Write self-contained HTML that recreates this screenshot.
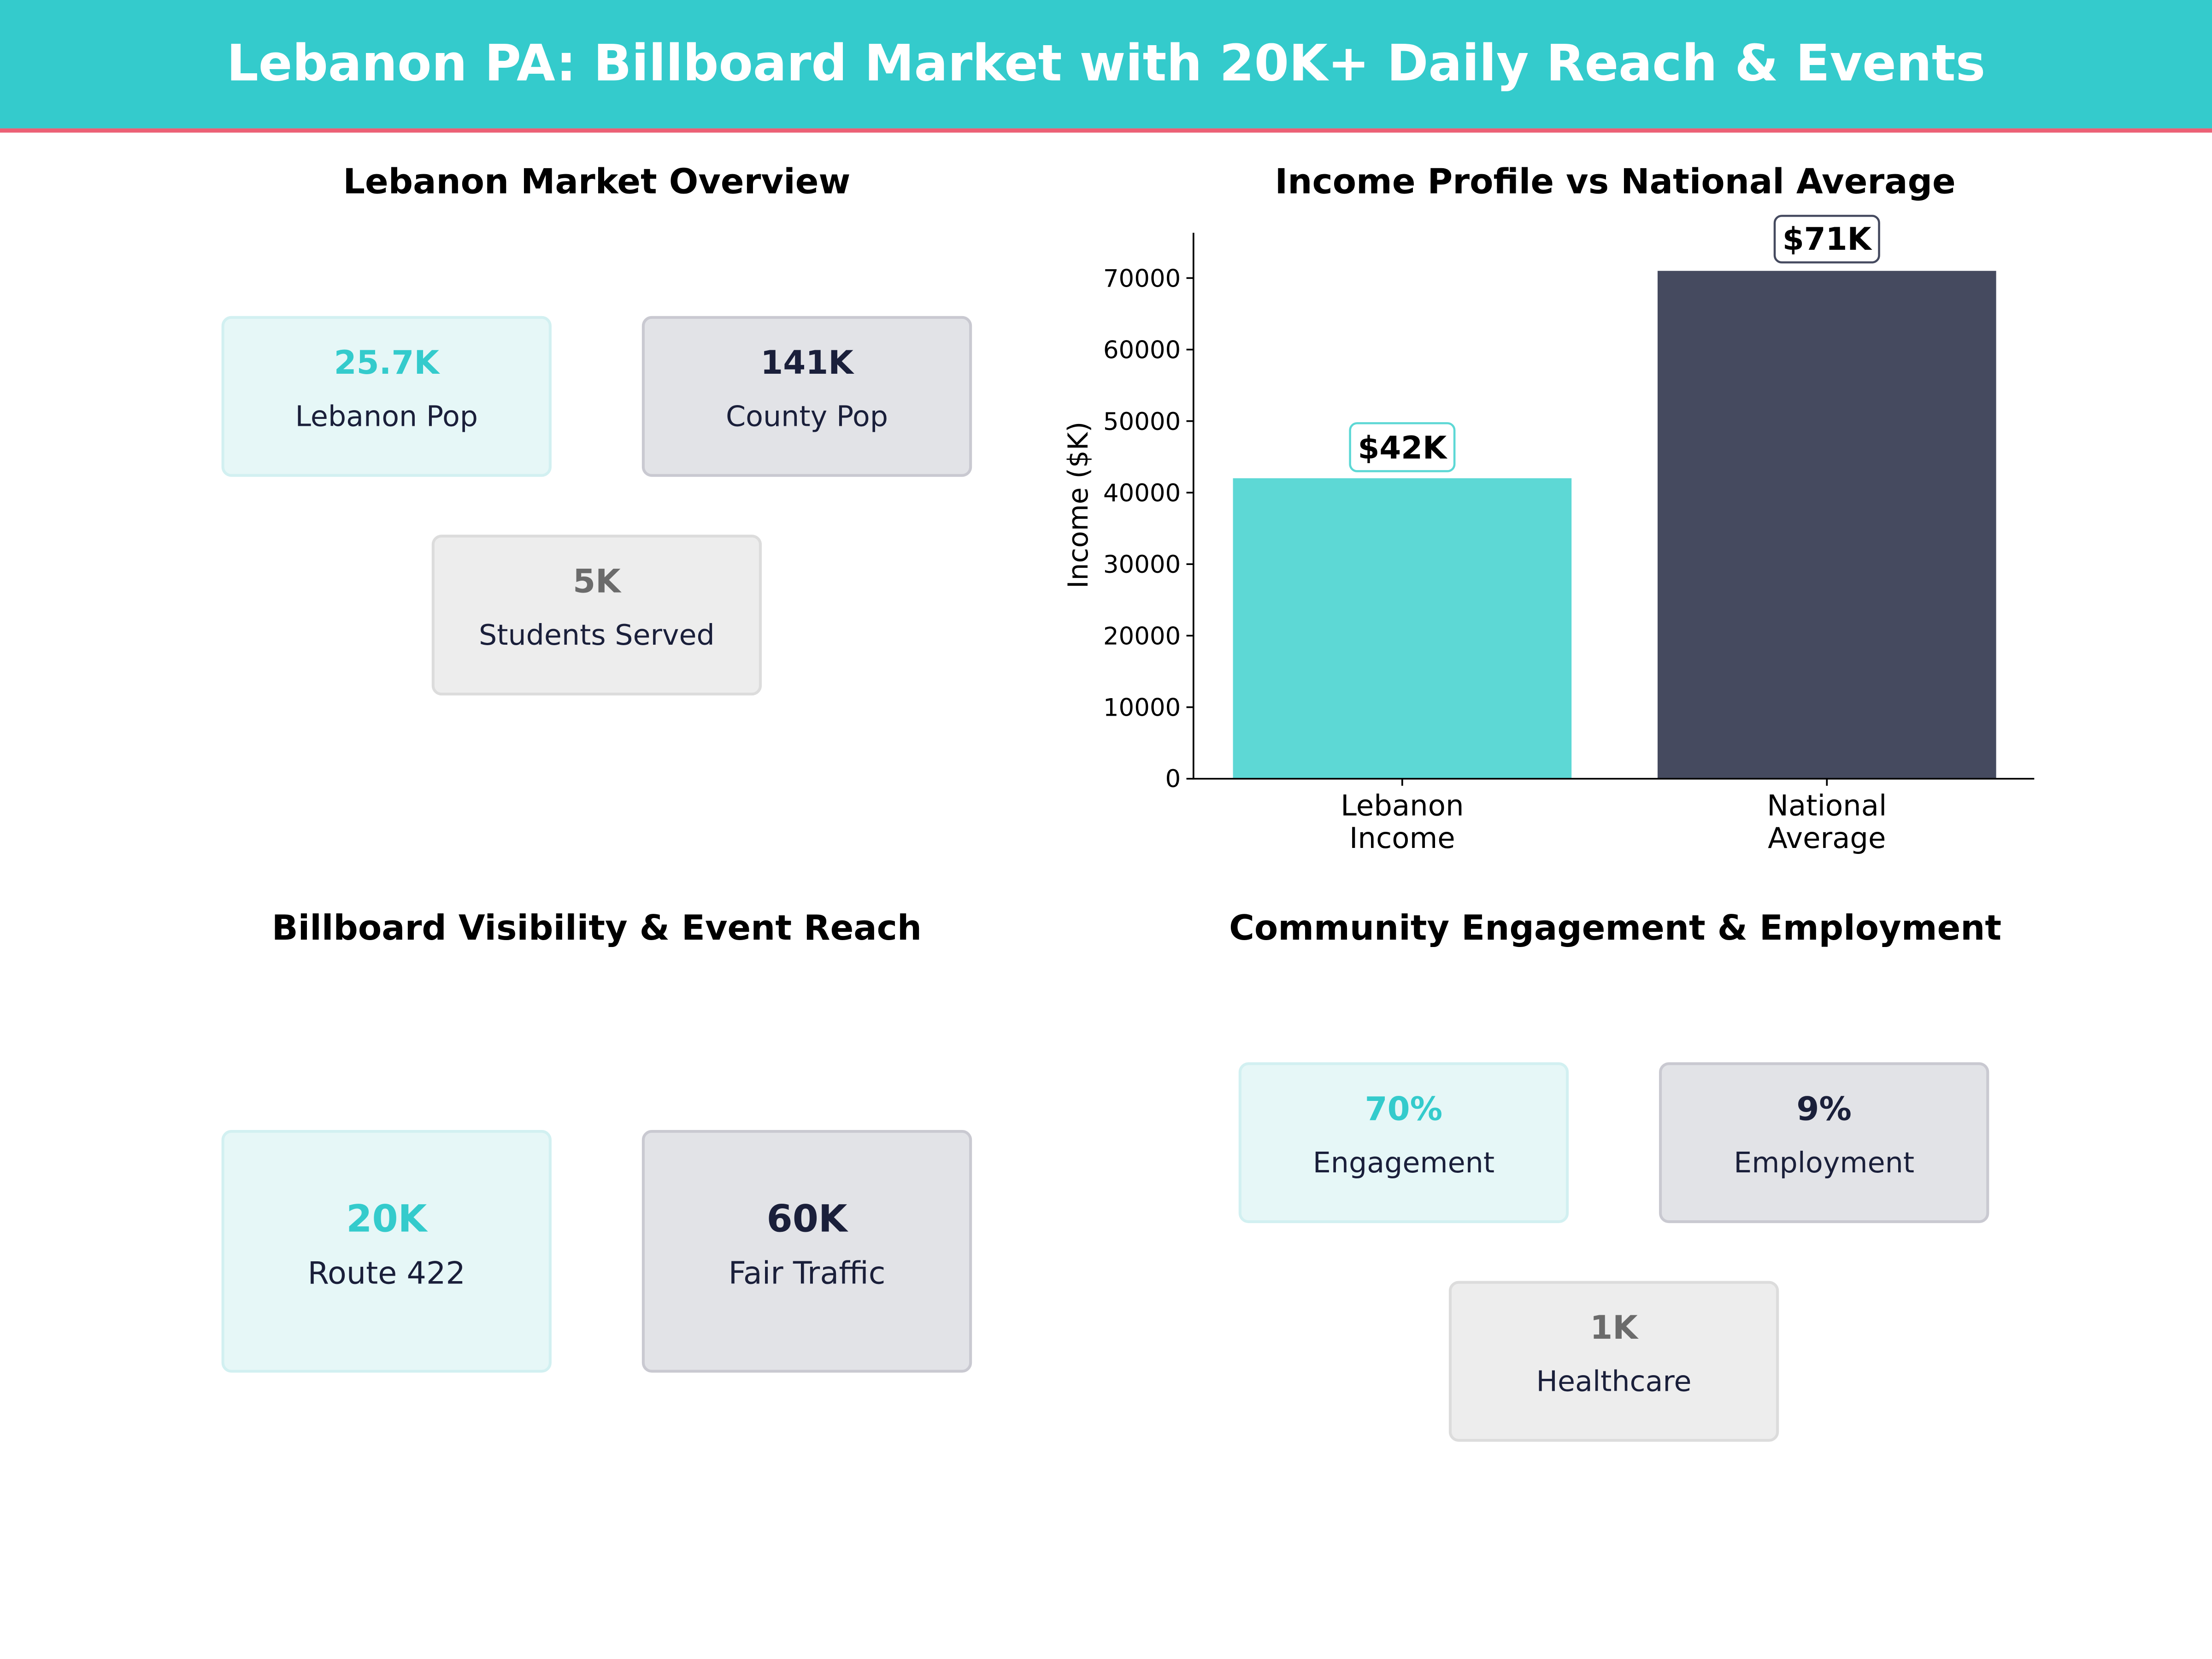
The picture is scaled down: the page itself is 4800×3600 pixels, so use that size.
<!DOCTYPE html>
<html><head><meta charset="utf-8"><style>html,body{margin:0;padding:0;background:#fff}svg{display:block}</style></head>
<body>
<svg xmlns="http://www.w3.org/2000/svg" width="4800" height="3600" viewBox="0 0 1568 1176" font-family="'DejaVu Sans','Liberation Sans',sans-serif">
<rect x="0" y="0" width="1568" height="1176" fill="#fff"/>
<rect x="0" y="0" width="1568" height="91" fill="#34CBCC"/>
<rect x="0" y="91" width="1568" height="3" fill="#EC6075"/>
<text x="784" y="57" text-anchor="middle" font-size="35.4" font-weight="bold" fill="#fff">Lebanon PA: Billboard Market with 20K+ Daily Reach &amp; Events</text>

<g font-size="24.4" font-weight="bold" fill="#000" text-anchor="middle">
<text x="423" y="137">Lebanon Market Overview</text>
<text x="1145" y="137">Income Profile vs National Average</text>
<text x="423" y="666">Billboard Visibility &amp; Event Reach</text>
<text x="1145" y="666">Community Engagement &amp; Employment</text>
</g>

<g stroke-width="2">
<rect x="158" y="225" width="232" height="112" rx="6" fill="#E6F7F7" stroke="#D2F0F1"/>
<rect x="456" y="225" width="232" height="112" rx="6" fill="#E2E3E7" stroke="#C9C9D1"/>
<rect x="307" y="380" width="232" height="112" rx="6" fill="#EDEDED" stroke="#DCDCDC"/>
<rect x="158" y="802" width="232" height="170" rx="6" fill="#E6F7F7" stroke="#D2F0F1"/>
<rect x="456" y="802" width="232" height="170" rx="6" fill="#E2E3E7" stroke="#C9C9D1"/>
<rect x="879" y="754" width="232" height="112" rx="6" fill="#E6F7F7" stroke="#D2F0F1"/>
<rect x="1177" y="754" width="232" height="112" rx="6" fill="#E2E3E7" stroke="#C9C9D1"/>
<rect x="1028" y="909" width="232" height="112" rx="6" fill="#EDEDED" stroke="#DCDCDC"/>
</g>
<g text-anchor="middle" font-weight="bold" font-size="23">
<text x="274" y="265" fill="#34CBCC">25.7K</text>
<text x="572" y="265" fill="#1A1F3A">141K</text>
<text x="423" y="420" fill="#6B6B6B">5K</text>
<text x="274" y="873" fill="#34CBCC" font-size="26.4">20K</text>
<text x="572" y="873" fill="#1A1F3A" font-size="26.4">60K</text>
<text x="995" y="794" fill="#34CBCC">70%</text>
<text x="1293" y="794" fill="#1A1F3A">9%</text>
<text x="1144" y="949" fill="#6B6B6B">1K</text>
</g>
<g text-anchor="middle" font-size="20.2" fill="#1A1F3A">
<text x="274" y="302">Lebanon Pop</text>
<text x="572" y="302">County Pop</text>
<text x="423" y="457">Students Served</text>
<text x="274" y="910" font-size="21.8">Route 422</text>
<text x="572" y="910" font-size="21.8">Fair Traffic</text>
<text x="995" y="831">Engagement</text>
<text x="1293" y="831">Employment</text>
<text x="1144" y="986">Healthcare</text>
</g>

<rect x="874" y="339" width="240" height="213" fill="#5DD8D5"/>
<rect x="1175" y="192" width="240" height="360" fill="#454A5F"/>
<line x1="846" y1="165" x2="846" y2="552.5" stroke="#000" stroke-width="1.2"/>
<line x1="845.5" y1="552" x2="1442" y2="552" stroke="#000" stroke-width="1.2"/>
<g stroke="#000" stroke-width="1.2">
<line x1="841" y1="552" x2="846" y2="552"/>
<line x1="841" y1="501.3" x2="846" y2="501.3"/>
<line x1="841" y1="450.6" x2="846" y2="450.6"/>
<line x1="841" y1="399.9" x2="846" y2="399.9"/>
<line x1="841" y1="349.2" x2="846" y2="349.2"/>
<line x1="841" y1="298.5" x2="846" y2="298.5"/>
<line x1="841" y1="247.8" x2="846" y2="247.8"/>
<line x1="841" y1="197.1" x2="846" y2="197.1"/>
<line x1="994" y1="552" x2="994" y2="557"/>
<line x1="1295" y1="552" x2="1295" y2="557"/>
</g>
<g font-size="17.3" fill="#000" text-anchor="end">
<text x="837" y="558">0</text>
<text x="837" y="507.5">10000</text>
<text x="837" y="456.8">20000</text>
<text x="837" y="406">30000</text>
<text x="837" y="355.4">40000</text>
<text x="837" y="304.7">50000</text>
<text x="837" y="254">60000</text>
<text x="837" y="203.3">70000</text>
</g>
<text transform="translate(771,358) rotate(-90)" text-anchor="middle" font-size="19.5" fill="#000">Income ($K)</text>
<g font-size="20.4" fill="#000" text-anchor="middle">
<text x="994" y="578">Lebanon</text>
<text x="994" y="601">Income</text>
<text x="1295" y="578">National</text>
<text x="1295" y="601">Average</text>
</g>
<rect x="957" y="300" width="74" height="34" rx="5" fill="#fff" stroke="#5DD8D5" stroke-width="1.5"/>
<rect x="1258" y="153" width="74" height="33" rx="5" fill="#fff" stroke="#454A5F" stroke-width="1.5"/>
<g font-size="22" font-weight="bold" fill="#000" text-anchor="middle">
<text x="994" y="325">$42K</text>
<text x="1295" y="177">$71K</text>
</g>
</svg>
</body></html>
